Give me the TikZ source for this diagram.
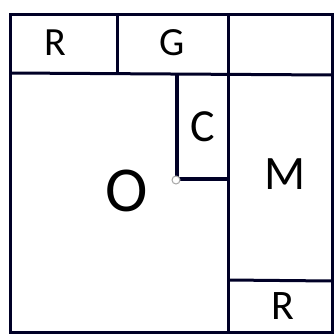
\documentclass[tikz,border=0pt]{standalone}
\usepackage{fontspec}
\setmainfont{Carlito}
\usetikzlibrary{positioning}

\begin{document}
\begin{tikzpicture}[x=1pt,y=-1pt,
  wall/.style={line width=3pt,black!85!blue},
  lab/.style={font=\fontsize{40}{40}\selectfont,inner sep=0pt}]
\useasboundingbox (0,0) rectangle (335,335);
% frame and dividers
\draw[wall] (10,14) rectangle (332,332);
\draw[wall] (10,73)--(332,75);
\draw[wall] (117,14)--(117,73);
\draw[wall] (228,14)--(228,332);
\draw[wall] (228,280)--(332,281);
\draw[wall,line width=4.5pt] (177,74)--(177,179)--(228,179);
\node[circle,draw=gray!70,fill=white,line width=1pt,inner sep=0pt,minimum size=8pt] (k) at (176,180) {};
% labels
\node[lab] (r1) at (55,43) {R};
\node[lab] (g) at (172,43) {G};
\node[lab,font=\fontsize{46}{46}\selectfont] (c) at (203,127) {C};
\node[lab,font=\fontsize{48}{48}\selectfont] (m) at (285,174) {M};
\node[lab,font=\fontsize{64}{64}\selectfont] (o) at (127,191) {O};
\node[lab,font=\fontsize{42}{42}\selectfont] (r2) at (283,306) {R};
\end{tikzpicture}
\end{document}
